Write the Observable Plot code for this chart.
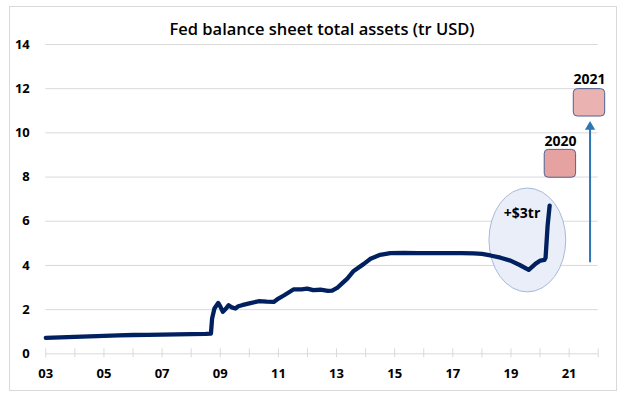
<!DOCTYPE html>
<html>
<head>
<meta charset="utf-8">
<script src="https://cdn.jsdelivr.net/npm/d3@7"></script>
<script src="https://cdn.jsdelivr.net/npm/@observablehq/plot@0.6"></script>
<style>
  body { margin: 0; background: #fff; }
  #wrap { position: relative; width: 626px; height: 398px; background: #fff; }
  #border { position: absolute; left: 9px; top: 6px; width: 606px; height: 383px; border: 1px solid #d9d9d9; pointer-events: none; }
  #chart { position: absolute; left: 0; top: 0; }
</style>
</head>
<body>
<div id="wrap"><div id="chart"></div><div id="border"></div></div>
<script>
// ---- data ----
const title = "Fed balance sheet total assets (tr USD)";
const years = [2003.0, 2003.5, 2004.0, 2004.5, 2005.0, 2005.5, 2006.0, 2006.5, 2007.0, 2007.5, 2008.0, 2008.5, 2008.68, 2008.72, 2008.8, 2008.93, 2009.0, 2009.09, 2009.2, 2009.29, 2009.4, 2009.52, 2009.62, 2009.75, 2010.0, 2010.32, 2010.6, 2010.84, 2011.0, 2011.2, 2011.53, 2011.8, 2011.99, 2012.2, 2012.45, 2012.7, 2012.85, 2013.02, 2013.2, 2013.37, 2013.59, 2013.94, 2014.17, 2014.5, 2014.85, 2015.3, 2015.8, 2016.23, 2016.8, 2017.3, 2017.72, 2018.0, 2018.29, 2018.64, 2018.98, 2019.3, 2019.61, 2019.84, 2020.01, 2020.15, 2020.19, 2020.26, 2020.33];
const assets = [0.72, 0.74, 0.77, 0.79, 0.81, 0.83, 0.85, 0.86, 0.87, 0.88, 0.89, 0.90, 0.91, 1.6, 2.05, 2.3, 2.15, 1.9, 2.05, 2.2, 2.1, 2.05, 2.15, 2.2, 2.28, 2.38, 2.36, 2.35, 2.5, 2.65, 2.92, 2.92, 2.95, 2.88, 2.9, 2.85, 2.86, 2.98, 3.2, 3.4, 3.75, 4.07, 4.3, 4.48, 4.56, 4.57, 4.56, 4.56, 4.56, 4.56, 4.55, 4.52, 4.45, 4.35, 4.22, 4.02, 3.80, 4.07, 4.22, 4.25, 4.35, 5.8, 6.71];
const yTicks = [0, 2, 4, 6, 8, 10, 12, 14];
const tickYears = [2003, 2004, 2005, 2006, 2007, 2008, 2009, 2010, 2011, 2012, 2013, 2014, 2015, 2016, 2017, 2018, 2019, 2020, 2021, 2022];
const labelYears = [2003, 2005, 2007, 2009, 2011, 2013, 2015, 2017, 2019, 2021];
const boxLabels = ["2020", "2021"];
const boxX1 = [2020.16, 2021.16];
const boxX2 = [2021.24, 2022.24];
const boxY1 = [7.97, 10.74];
const boxY2 = [9.23, 11.98];
const boxLabelX = [2020.70, 2021.70];
const boxLabelY = [9.61, 12.42];
const boxFill = ["#e6a1a1", "#eab3b1"];
const annotText = "+$3tr";
const annotX = 2019.38, annotY = 6.34;
const ellipseCx = 2019.58, ellipseCy = 5.13, ellipseRx = 1.32, ellipseRy = 2.35;
const arrowX = 2021.72, arrowFrom = 4.12, arrowTo = 10.53;

const series = years.map((y, i) => ({year: y, value: assets[i]}));
const boxes = boxLabels.map((l, i) => ({label: l, x1: boxX1[i], x2: boxX2[i], y1: boxY1[i], y2: boxY2[i], lx: boxLabelX[i], ly: boxLabelY[i], fill: boxFill[i]}));

const font = "'Open Sans', 'Noto Sans', sans-serif";

function ellipseMark(index, scales) {
  const cx = scales.x(ellipseCx), cy = scales.y(ellipseCy);
  const rx = Math.abs(scales.x(ellipseCx + ellipseRx) - cx);
  const ry = Math.abs(scales.y(ellipseCy + ellipseRy) - cy);
  return d3.create("svg:ellipse")
    .attr("cx", cx).attr("cy", cy).attr("rx", rx).attr("ry", ry)
    .attr("fill", "#e9eef8").attr("stroke", "#a9b9da").attr("stroke-width", 1)
    .node();
}

const chart = Plot.plot({
  width: 626,
  height: 398,
  marginLeft: 45.3,
  marginRight: 28.3,
  marginTop: 44,
  marginBottom: 44.7,
  style: {fontFamily: font, background: "transparent", overflow: "visible"},
  x: {type: "linear", domain: [2003, 2022]},
  y: {domain: [0, 14]},
  marks: [
    Plot.gridY(yTicks, {stroke: "#d9d9d9", strokeOpacity: 1}),
    Plot.axisY(yTicks, {tickSize: 0, tickPadding: 16, fontWeight: "bold", fontSize: 13, fill: "#000", label: null}),
    Plot.ruleX(tickYears, {x: d => d, y1: 0, y2: 0, insetTop: -5, insetBottom: -4, stroke: "#d9d9d9"}),
    Plot.axisX(labelYears, {tickSize: 0, tickPadding: 15, fontWeight: "bold", fontSize: 13, fill: "#000", label: null,
      tickFormat: d => String(d % 100).padStart(2, "0")}),
    ellipseMark,
    Plot.line(series, {x: "year", y: "value", stroke: "#002060", strokeWidth: 4.3, strokeLinejoin: "round", strokeLinecap: "round"}),
    Plot.text([annotText], {x: annotX, y: annotY, text: d => d, fontWeight: "bold", fontSize: 14, fill: "#000"}),
    Plot.rect(boxes, {x1: "x1", x2: "x2", y1: "y1", y2: "y2", fill: "fill", stroke: "#4f6290", strokeWidth: 1, rx: 4}),
    Plot.text(boxes, {x: "lx", y: "ly", text: "label", fontWeight: "bold", fontSize: 14, fill: "#000"}),
    Plot.ruleX([arrowX], {x: d => d, y1: arrowFrom, y2: arrowTo - 0.2, stroke: "#2e75b6", strokeWidth: 2}),
    Plot.dot([arrowX], {x: d => d, y: arrowTo - 0.26, symbol: "triangle", r: 3.8, fill: "#2e75b6", stroke: "none"}),
    Plot.text([title], {frameAnchor: "top", dy: -21, text: d => d, fontSize: 16.5, fontWeight: 600, fill: "#000"})
  ]
});
document.getElementById("chart").appendChild(chart);
</script>
</body>
</html>
